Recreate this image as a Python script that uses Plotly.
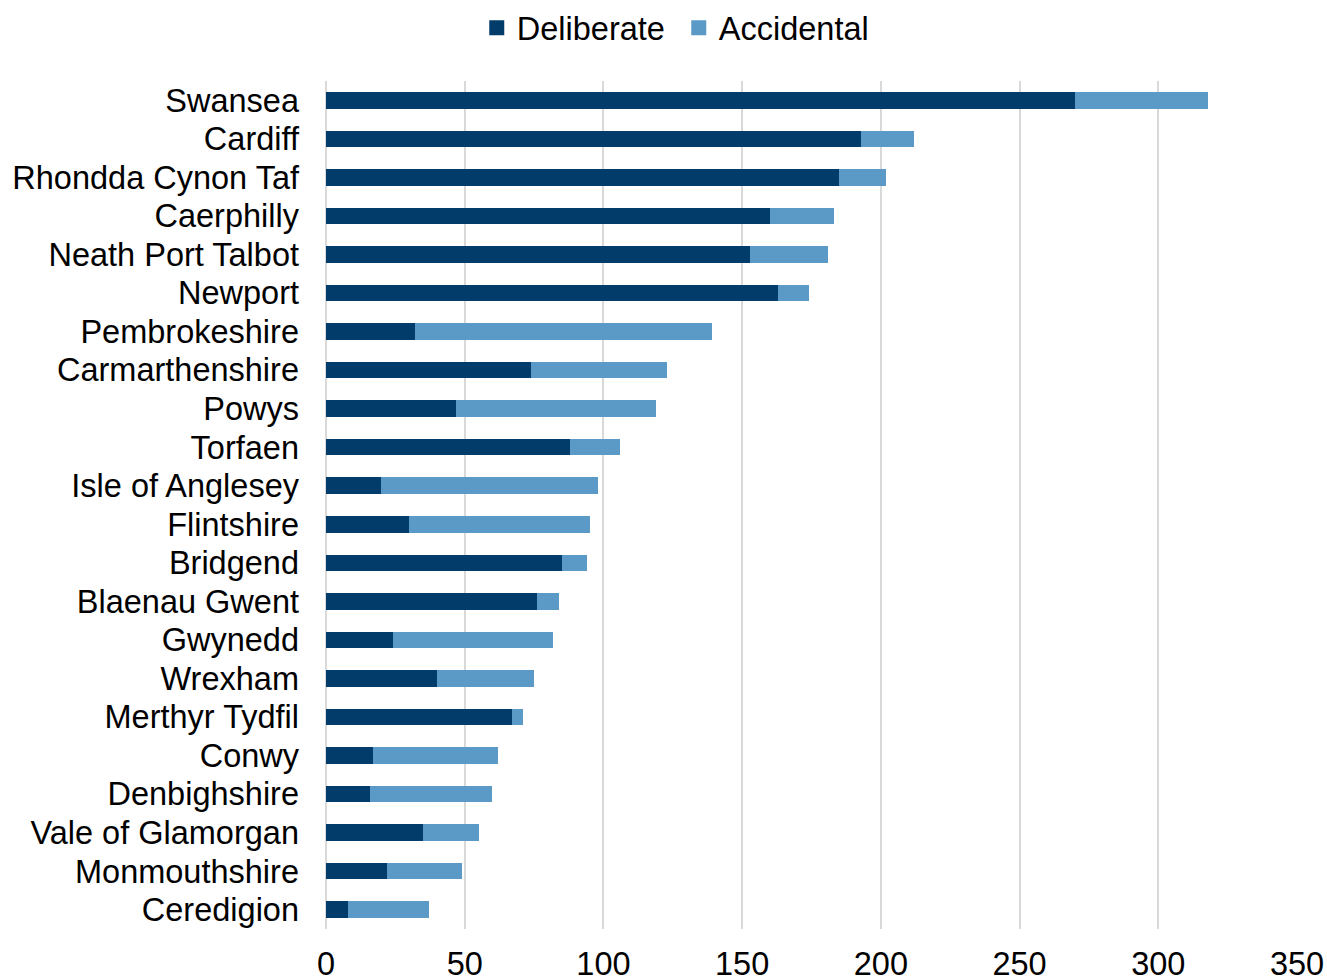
import plotly.graph_objects as go

areas = ["Swansea", "Cardiff", "Rhondda Cynon Taf", "Caerphilly", "Neath Port Talbot",
         "Newport", "Pembrokeshire", "Carmarthenshire", "Powys", "Torfaen",
         "Isle of Anglesey", "Flintshire", "Bridgend", "Blaenau Gwent", "Gwynedd",
         "Wrexham", "Merthyr Tydfil", "Conwy", "Denbighshire", "Vale of Glamorgan",
         "Monmouthshire", "Ceredigion"]
deliberate = [270, 193, 185, 160, 153, 163, 32, 74, 47, 88, 20, 30, 85, 76, 24, 40, 67, 17, 16, 35, 22, 8]
accidental = [48, 19, 17, 23, 28, 11, 107, 49, 72, 18, 78, 65, 9, 8, 58, 35, 4, 45, 44, 20, 27, 29]
x_ticks = [0, 50, 100, 150, 200, 250, 300, 350]

FONT = "Liberation Sans, Arial, sans-serif"
FS = 32.5
DARK = "#023C6A"
LIGHT = "#5B9AC7"

fig = go.Figure()
fig.add_trace(go.Bar(y=areas, x=deliberate, orientation="h", name="Deliberate",
                     marker=dict(color=DARK, line=dict(width=0)), showlegend=False,
                     legendgroup="d"))
fig.add_trace(go.Bar(y=areas, x=accidental, orientation="h", name="Accidental",
                     marker=dict(color=LIGHT, line=dict(width=0)), showlegend=False,
                     legendgroup="a"))
# legend entries with larger square swatches
fig.add_trace(go.Scatter(x=[None], y=[None], mode="markers", name="Deliberate",
                         marker=dict(symbol="square", size=12, color=DARK,
                                     line=dict(width=3, color=DARK)),
                         legendgroup="d", showlegend=True))
fig.add_trace(go.Scatter(x=[None], y=[None], mode="markers", name="Accidental",
                         marker=dict(symbol="square", size=12, color=LIGHT,
                                     line=dict(width=3, color=LIGHT)),
                         legendgroup="a", showlegend=True))

fig.update_layout(
    barmode="stack",
    bargap=0.57,
    width=1327, height=980,
    margin=dict(l=326, r=30, t=81, b=51, pad=0),
    paper_bgcolor="white", plot_bgcolor="white",
    font=dict(family=FONT, size=FS, color="black"),
    showlegend=True,
    legend=dict(orientation="h", xref="container", yref="container",
                x=0.5115, xanchor="center", y=1.0, yanchor="top",
                font=dict(size=FS), itemwidth=30, traceorder="normal",
                entrywidth=157, entrywidthmode="pixels",
                bgcolor="rgba(0,0,0,0)"),
    xaxis=dict(range=[0, 350], tickvals=x_ticks, ticktext=[str(v) for v in x_ticks],
               showgrid=True, gridcolor="#D9D9D9", gridwidth=2,
               zeroline=True, zerolinecolor="#D9D9D9", zerolinewidth=2,
               showline=False, ticks="", ticklabelstandoff=12, automargin=False,
               tickfont=dict(size=FS)),
    yaxis=dict(autorange="reversed", showgrid=False, showline=False, ticks="",
               tickmode="linear", tick0=0, dtick=1,
               ticklabelstandoff=26, automargin=False, tickfont=dict(size=FS)),
)

fig.write_html("out.html")
